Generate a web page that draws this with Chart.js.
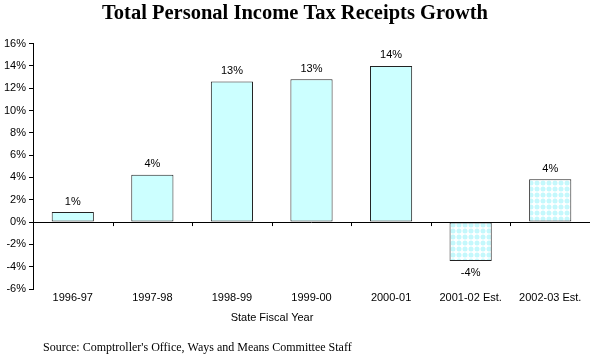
<!DOCTYPE html>
<html>
<head>
<meta charset="utf-8">
<script src="https://cdn.jsdelivr.net/npm/chart.js@4"></script>
<style>
  body { margin: 0; background: #fff; }
  #wrap { width: 595px; height: 358px; }
</style>
</head>
<body>
<div id="wrap"><canvas id="growthGraf" width="595" height="358"></canvas></div>
<script>
var years = ["1996-97", "1997-98", "1998-99", "1999-00", "2000-01", "2001-02 Est.", "2002-03 Est."];
var growth = [0.9, 4.25, 12.6, 12.8, 14.0, -3.5, 3.85];
var growthLabels = ["1%", "4%", "13%", "13%", "14%", "-4%", "4%"];
var isEstimate = [false, false, false, false, false, true, true];
var yTicks = [16, 14, 12, 10, 8, 6, 4, 2, 0, -2, -4, -6];

// dotted fill for the estimated years
function dotPattern() {
    var c = document.createElement('canvas');
    c.width = 6; c.height = 6;
    var p = c.getContext('2d');
    p.fillStyle = '#ffffff';
    p.fillRect(0, 0, 6, 6);
    p.fillStyle = '#c4f8fc';
    p.beginPath();
    p.arc(3, 3, 2.5, 0, Math.PI * 2);
    p.fill();
    return p.createPattern(c, 'repeat');
}

var ctx = document.getElementById('growthGraf').getContext('2d');
var dots = dotPattern();
var fills = [];
for (var i = 0; i < growth.length; i++) {
    fills[i] = isEstimate[i] ? dots : '#ccffff';
}

// zero line, category ticks, value labels, axis title and source note
var extras = {
    id: 'extras',
    afterDatasetsDraw: function (chart) {
        var c = chart.ctx;
        var x = chart.scales.x, y = chart.scales.y;
        var y0 = y.getPixelForValue(0);
        c.save();
        c.strokeStyle = '#000';
        c.lineWidth = 1;
        c.beginPath();
        c.moveTo(chart.chartArea.left, Math.round(y0) + 0.5);
        c.lineTo(chart.chartArea.right, Math.round(y0) + 0.5);
        for (var i = 1; i < years.length; i++) {
            var bx = Math.round((x.getPixelForValue(i - 1) + x.getPixelForValue(i)) / 2) + 0.5;
            c.moveTo(bx, y0);
            c.lineTo(bx, y0 + 4);
        }
        c.stroke();

        c.fillStyle = '#000';
        c.font = '11px "Liberation Sans", Arial, sans-serif';
        c.textAlign = 'center';
        var meta = chart.getDatasetMeta(0);
        meta.data.forEach(function (bar, i) {
            if (growth[i] >= 0) {
                c.textBaseline = 'bottom';
                c.fillText(growthLabels[i], bar.x, bar.y - 5);
            } else {
                c.textBaseline = 'top';
                c.fillText(growthLabels[i], bar.x, bar.y + 6);
            }
        });

        c.textBaseline = 'middle';
        c.fillText('State Fiscal Year', 272, 318);
        c.textAlign = 'left';
        c.font = '12px "Liberation Serif", "DejaVu Serif", serif';
        c.fillText("Source: Comptroller's Office, Ways and Means Committee Staff", 43, 348);
        c.restore();
    }
};

var growthGraf = new Chart(ctx, {
    type: 'bar',
    data: {
        labels: years,
        datasets: [{
            data: growth,
            backgroundColor: fills,
            borderColor: '#222',
            borderWidth: 1,
            borderSkipped: false,
            categoryPercentage: 1,
            barPercentage: 0.53
        }]
    },
    options: {
        responsive: false,
        animation: false,
        layout: { padding: { left: 0, right: 5, top: 0, bottom: 49 } },
        plugins: {
            legend: { display: false },
            tooltip: { enabled: false },
            title: {
                display: true,
                text: 'Total Personal Income Tax Receipts Growth',
                color: '#000',
                font: { family: '"Liberation Serif", "DejaVu Serif", serif', size: 20.5, weight: 'bold' },
                padding: { top: 1, bottom: 18 }
            }
        },
        scales: {
            x: {
                afterFit: function (scale) { scale.height = 20; },
                grid: { display: false, drawTicks: false },
                border: { display: false },
                ticks: {
                    color: '#000',
                    padding: 2,
                    maxRotation: 0,
                    autoSkip: false,
                    font: { family: '"Liberation Sans", Arial, sans-serif', size: 11 }
                }
            },
            y: {
                min: -6,
                max: 16,
                afterFit: function (scale) { scale.width = 33; },
                afterBuildTicks: function (scale) {
                    scale.ticks = yTicks.map(function (v) { return { value: v }; });
                },
                grid: { drawOnChartArea: false, tickLength: 4, color: '#000' },
                border: { display: true, color: '#000' },
                ticks: {
                    color: '#000',
                    padding: 3,
                    font: { family: '"Liberation Sans", Arial, sans-serif', size: 11 },
                    callback: function (v) { return v + '%'; }
                }
            }
        }
    },
    plugins: [extras]
});
</script>
</body>
</html>
